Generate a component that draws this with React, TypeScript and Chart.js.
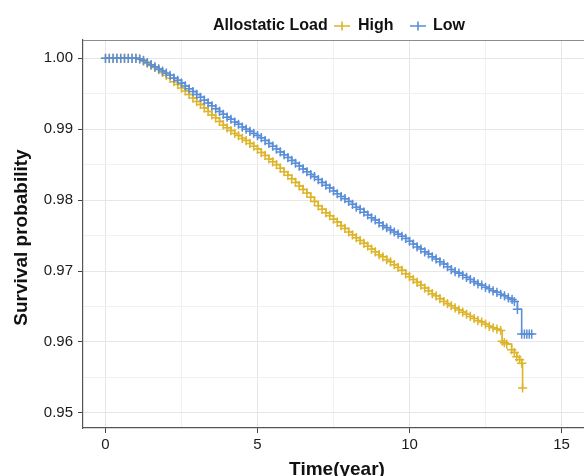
import React, { useEffect, useRef } from 'react';
import { Chart, registerables } from 'chart.js';

Chart.register(...registerables);

// ---- data (time in years, survival probability) ----
const highTime = [
  0, 0.125, 0.25, 0.375, 0.5, 0.625, 0.75, 0.875, 1.0, 1.125,
  1.25, 1.375, 1.5, 1.625, 1.75, 1.875, 2.0, 2.125, 2.25, 2.375,
  2.5, 2.625, 2.75, 2.875, 3.0, 3.125, 3.25, 3.375, 3.5, 3.625,
  3.75, 3.875, 4.0, 4.125, 4.25, 4.375, 4.5, 4.625, 4.75, 4.875,
  5.0, 5.125, 5.25, 5.375, 5.5, 5.625, 5.75, 5.875, 6.0, 6.125,
  6.25, 6.375, 6.5, 6.625, 6.75, 6.875, 7.0, 7.125, 7.25, 7.375,
  7.5, 7.625, 7.75, 7.875, 8.0, 8.125, 8.25, 8.375, 8.5, 8.625,
  8.75, 8.875, 9.0, 9.125, 9.25, 9.375, 9.5, 9.625, 9.75, 9.875,
  10.0, 10.125, 10.25, 10.375, 10.5, 10.625, 10.75, 10.875, 11.0, 11.125,
  11.25, 11.375, 11.5, 11.625, 11.75, 11.875, 12.0, 12.125, 12.25, 12.375,
  12.5, 12.625, 12.75, 12.875, 13.0, 13.05, 13.12, 13.2, 13.36, 13.45,
  13.53, 13.62, 13.69, 13.72,
];
const highSurv = [
  1, 1, 1, 1, 1, 1, 1, 1, 1, 0.9999,
  0.9996, 0.9993, 0.999, 0.9987, 0.9984, 0.998, 0.9976, 0.9972, 0.9967, 0.9963,
  0.9958, 0.9954, 0.9949, 0.9944, 0.9939, 0.9935, 0.993, 0.9925, 0.992, 0.9916,
  0.9911, 0.9906, 0.9902, 0.9898, 0.9894, 0.9891, 0.9887, 0.9884, 0.988, 0.9876,
  0.9872, 0.9867, 0.9863, 0.9858, 0.9854, 0.985, 0.9845, 0.984, 0.9835, 0.983,
  0.9825, 0.982, 0.9815, 0.981, 0.9804, 0.9798, 0.9792, 0.9787, 0.9782, 0.9778,
  0.9773, 0.9769, 0.9764, 0.976, 0.9755, 0.9751, 0.9747, 0.9743, 0.9739, 0.9735,
  0.9731, 0.9727, 0.9723, 0.972, 0.9716, 0.9713, 0.9709, 0.9705, 0.9701, 0.9696,
  0.9692, 0.9688, 0.9684, 0.968, 0.9676, 0.9672, 0.9668, 0.9665, 0.9661, 0.9657,
  0.9654, 0.9651, 0.9648, 0.9645, 0.9642, 0.9639, 0.9636, 0.9633, 0.963, 0.9628,
  0.9625, 0.9622, 0.962, 0.9618, 0.9616, 0.9601, 0.9599, 0.9597, 0.9589, 0.9585,
  0.9579, 0.9575, 0.957, 0.9535,
];

const lowTime = [
  0, 0.125, 0.25, 0.375, 0.5, 0.625, 0.75, 0.875, 1.0, 1.125,
  1.25, 1.375, 1.5, 1.625, 1.75, 1.875, 2.0, 2.125, 2.25, 2.375,
  2.5, 2.625, 2.75, 2.875, 3.0, 3.125, 3.25, 3.375, 3.5, 3.625,
  3.75, 3.875, 4.0, 4.125, 4.25, 4.375, 4.5, 4.625, 4.75, 4.875,
  5.0, 5.125, 5.25, 5.375, 5.5, 5.625, 5.75, 5.875, 6.0, 6.125,
  6.25, 6.375, 6.5, 6.625, 6.75, 6.875, 7.0, 7.125, 7.25, 7.375,
  7.5, 7.625, 7.75, 7.875, 8.0, 8.125, 8.25, 8.375, 8.5, 8.625,
  8.75, 8.875, 9.0, 9.125, 9.25, 9.375, 9.5, 9.625, 9.75, 9.875,
  10.0, 10.125, 10.25, 10.375, 10.5, 10.625, 10.75, 10.875, 11.0, 11.125,
  11.25, 11.375, 11.5, 11.625, 11.75, 11.875, 12.0, 12.125, 12.25, 12.375,
  12.5, 12.625, 12.75, 12.875, 13.0, 13.125, 13.25, 13.375, 13.45, 13.55,
  13.69, 13.78, 13.86, 13.94, 14.02,
];
const lowSurv = [
  1, 1, 1, 1, 1, 1, 1, 1, 1, 0.9999,
  0.9997, 0.9994, 0.9991, 0.9988, 0.9985, 0.9982, 0.9979, 0.9976, 0.9972, 0.9969,
  0.9965, 0.9961, 0.9957, 0.9953, 0.9949, 0.9945, 0.9941, 0.9937, 0.9933, 0.9929,
  0.9925, 0.9921, 0.9917, 0.9914, 0.991, 0.9907, 0.9903, 0.99, 0.9897, 0.9894,
  0.9891, 0.9888, 0.9884, 0.988, 0.9876, 0.9872, 0.9868, 0.9864, 0.986, 0.9856,
  0.9852, 0.9848, 0.9844, 0.984, 0.9836, 0.9833, 0.9829, 0.9825, 0.9821, 0.9817,
  0.9813, 0.9809, 0.9805, 0.9802, 0.9798, 0.9794, 0.979, 0.9787, 0.9783, 0.9779,
  0.9775, 0.9772, 0.9768, 0.9764, 0.9761, 0.9758, 0.9755, 0.9752, 0.9749, 0.9746,
  0.9742, 0.9738, 0.9734, 0.9731, 0.9727, 0.9724, 0.972, 0.9717, 0.9713, 0.971,
  0.9706, 0.9702, 0.9699, 0.9697, 0.9694, 0.9691, 0.9688, 0.9685, 0.9682, 0.968,
  0.9677, 0.9675, 0.9672, 0.967, 0.9667, 0.9665, 0.9662, 0.966, 0.9657, 0.9646,
  0.9611, 0.9611, 0.9611, 0.9611, 0.9611,
];

const groupNames = ['High', 'Low'];
const legendTitle = 'Allostatic Load';
const xTitle = 'Time(year)';
const yTitle = 'Survival probability';
const xMajor = [0, 5, 10, 15];
const xMinor = [2.5, 7.5, 12.5];
const yMajor = [0.95, 0.96, 0.97, 0.98, 0.99, 1.0];
const yMinor = [0.955, 0.965, 0.975, 0.985, 0.995];

const HIGH_COLOR = '#DDB52B';
const LOW_COLOR = '#5A8ED8';
const FONT = '"Liberation Sans", Arial, sans-serif';

const isIn = (arr: number[], v: number) => arr.some((a) => Math.abs(a - v) < 1e-9);

const decorPlugin = {
  id: 'decor',
  afterDraw(chart: any) {
    const ctx = chart.ctx as CanvasRenderingContext2D;
    const area = chart.chartArea;
    ctx.save();
    // top panel border
    ctx.strokeStyle = '#8c8c8c';
    ctx.lineWidth = 1;
    ctx.beginPath();
    ctx.moveTo(area.left, area.top + 0.5);
    ctx.lineTo(area.right, area.top + 0.5);
    ctx.stroke();

    ctx.fillStyle = '#111';
    // x title
    ctx.font = `bold 19px ${FONT}`;
    ctx.textAlign = 'center';
    ctx.textBaseline = 'alphabetic';
    ctx.fillText(xTitle, 337, 475);
    // y title
    ctx.save();
    ctx.translate(26.5, 237.5);
    ctx.rotate(-Math.PI / 2);
    ctx.fillText(yTitle, 0, 0);
    ctx.restore();

    // legend
    ctx.font = `bold 16px ${FONT}`;
    ctx.textAlign = 'left';
    ctx.textBaseline = 'middle';
    const ly = 26;
    ctx.fillText(legendTitle, 213, ly);
    const keys = [
      { cx: 342, color: HIGH_COLOR, tx: 358, label: groupNames[0] },
      { cx: 418, color: LOW_COLOR, tx: 433, label: groupNames[1] },
    ];
    keys.forEach((k) => {
      ctx.strokeStyle = k.color;
      ctx.lineWidth = 1.6;
      ctx.beginPath();
      ctx.moveTo(k.cx - 8, ly);
      ctx.lineTo(k.cx + 8, ly);
      ctx.moveTo(k.cx, ly - 4.5);
      ctx.lineTo(k.cx, ly + 4.5);
      ctx.stroke();
      ctx.fillStyle = '#111';
      ctx.fillText(k.label, k.tx, ly);
    });
    ctx.restore();
  },
};

export default function App() {
  const ref = useRef<HTMLCanvasElement | null>(null);
  useEffect(() => {
    if (!ref.current) return;
    const mk = (t: number[], s: number[]) => t.map((x, i) => ({ x, y: s[i] }));
    const ds = (label: string, t: number[], s: number[], color: string, order: number) => ({
      label,
      data: mk(t, s),
      borderColor: color,
      backgroundColor: color,
      pointBorderColor: color,
      pointBackgroundColor: color,
      borderWidth: 1.6,
      stepped: true,
      pointStyle: 'cross',
      pointRadius: 4.6,
      pointBorderWidth: 1.5,
      order,
    });
    const chart = new Chart(ref.current, {
      type: 'line',
      data: {
        datasets: [
          ds(groupNames[1], lowTime, lowSurv, LOW_COLOR, 0),
          ds(groupNames[0], highTime, highSurv, HIGH_COLOR, 1),
        ] as any,
      },
      options: {
        responsive: false,
        animation: false,
        devicePixelRatio: 1,
        layout: { autoPadding: false, padding: { top: 40, left: 0, right: 0, bottom: 0 } },
        plugins: { legend: { display: false }, tooltip: { enabled: false } },
        scales: {
          x: {
            type: 'linear',
            min: -0.74,
            max: 15.74,
            afterBuildTicks: (s: any) => {
              s.ticks = [...xMajor, ...xMinor].sort((a, b) => a - b).map((v) => ({ value: v }));
            },
            afterFit: (s: any) => {
              s.height = 48;
            },
            ticks: {
              autoSkip: false,
              maxRotation: 0,
              padding: 3,
              color: '#1a1a1a',
              font: { family: FONT, size: 15 },
              callback: (v: any) => (isIn(xMajor, Number(v)) ? String(v) : ''),
            },
            grid: {
              color: (c: any) => (isIn(xMajor, c.tick?.value) ? '#e6e6e6' : '#f1f1f1'),
              tickColor: (c: any) => (isIn(xMajor, c.tick?.value) ? '#444' : 'rgba(0,0,0,0)'),
              tickLength: 5,
              lineWidth: 1,
            },
            border: { display: true, color: '#555', width: 1.2 },
          },
          y: {
            type: 'linear',
            min: 0.94786,
            max: 1.00258,
            afterBuildTicks: (s: any) => {
              s.ticks = [...yMajor, ...yMinor].sort((a, b) => a - b).map((v) => ({ value: v }));
            },
            afterFit: (s: any) => {
              s.width = 83;
            },
            ticks: {
              autoSkip: false,
              padding: 5,
              color: '#1a1a1a',
              font: { family: FONT, size: 15 },
              callback: (v: any) => (isIn(yMajor, Number(v)) ? Number(v).toFixed(2) : ''),
            },
            grid: {
              color: (c: any) => (isIn(yMajor, c.tick?.value) ? '#e6e6e6' : '#f1f1f1'),
              tickColor: (c: any) => (isIn(yMajor, c.tick?.value) ? '#444' : 'rgba(0,0,0,0)'),
              tickLength: 5,
              lineWidth: 1,
            },
            border: { display: true, color: '#555', width: 1.2 },
          },
        },
      },
      plugins: [decorPlugin],
    });
    return () => chart.destroy();
  }, []);

  return (
    <div style={{ position: 'absolute', left: 0, top: 0, width: 584, height: 476, background: '#fff' }}>
      <canvas ref={ref} width={584} height={476} style={{ width: 584, height: 476, display: 'block' }} />
    </div>
  );
}
